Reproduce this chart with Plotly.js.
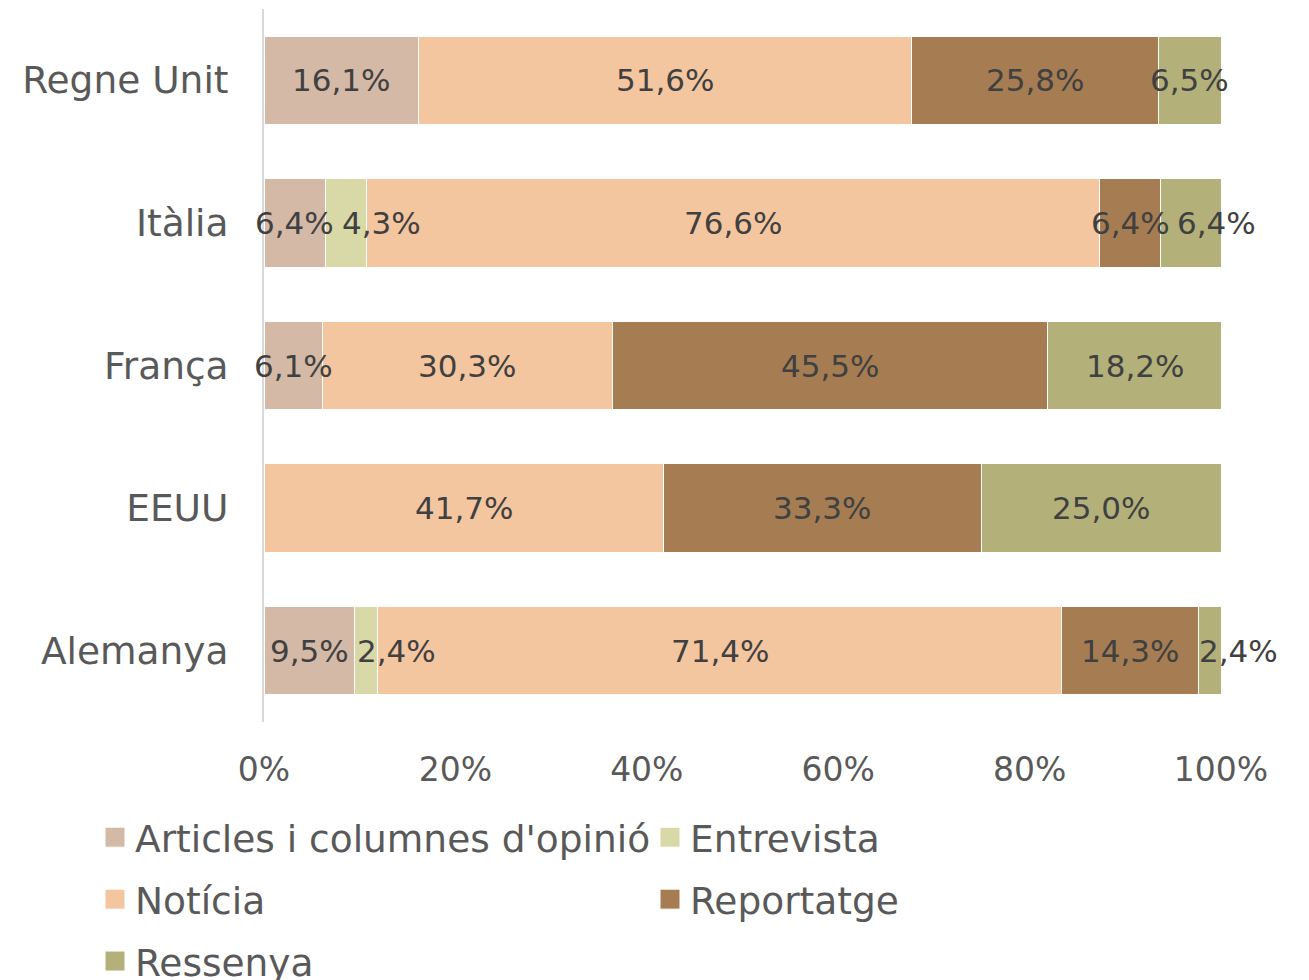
<!DOCTYPE html>
<html><head><meta charset="utf-8">
<script src="https://cdn.plot.ly/plotly-3.0.1.min.js"></script>
<style>html,body{margin:0;padding:0;background:#fff}</style>
</head><body>
<div id="chart" style="width:1309px;height:980px"></div>
<script>
const countries = ['Regne Unit', 'Itàlia', 'França', 'EEUU', 'Alemanya'];
const seriesNames = ["Articles i columnes d'opinió", 'Entrevista', 'Notícia', 'Reportatge', 'Ressenya'];
const articles   = [16.1, 6.4, 6.1, 0, 9.5];
const entrevista = [0, 4.3, 0, 0, 2.4];
const noticia    = [51.6, 76.6, 30.3, 41.7, 71.4];
const reportatge = [25.8, 6.4, 45.5, 33.3, 14.3];
const ressenya   = [6.5, 6.4, 18.2, 25.0, 2.4];
const xTickVals  = [0, 20, 40, 60, 80, 100];
const xTickText  = ['0%', '20%', '40%', '60%', '80%', '100%'];

const seriesValues = [articles, entrevista, noticia, reportatge, ressenya];
const colors = ['#D3B9A6', '#D9D9A8', '#F4C6A0', '#A67C52', '#B3B07A'];
const legendIds = ['legend', 'legend2', 'legend3', 'legend4', 'legend5'];

const FONT = '"DejaVu Sans", sans-serif';
const LABEL_SIZE = 31;
const W = 1309, H = 980;
const margin = {l: 264, r: 88, t: 8.5, b: 257.5};
const plotW = W - margin.l - margin.r;
const plotH = H - margin.t - margin.b;

function fmt(v) { return v.toFixed(1).replace('.', ',') + '%'; }

const traces = seriesValues.map((vals, i) => {
  const t = {
    type: 'bar',
    orientation: 'h',
    name: seriesNames[i],
    y: countries,
    x: vals,
    marker: {color: colors[i], line: {color: '#ffffff', width: 1}},
    hoverinfo: 'skip',
    showlegend: true
  };
  if (i > 0) t.legend = legendIds[i];
  return t;
});

// data labels, centred in each segment; if one would overlap the previous label it is moved right
const canvas = document.createElement('canvas');
const ctx = canvas.getContext('2d');
ctx.font = LABEL_SIZE + 'px ' + FONT;
const pxPerUnit = plotW / 100;
const annotations = [];
countries.forEach((c, j) => {
  let cum = 0;
  let prevRight = -Infinity;
  seriesValues.forEach((vals, i) => {
    const v = vals[j];
    if (v > 0) {
      const txt = fmt(v);
      const w = ctx.measureText(txt).width;
      const center = (cum + v / 2) * pxPerUnit;
      let left = center - w / 2;
      let shift = 0;
      if (left < prevRight + 8) {
        const newLeft = Math.max(cum * pxPerUnit + 1, prevRight + 8);
        shift = newLeft - left;
        left = newLeft;
      }
      prevRight = left + w;
      annotations.push({
        x: cum + v / 2, y: c, xref: 'x', yref: 'y', text: txt, showarrow: false,
        xanchor: 'center', yanchor: 'middle', xshift: shift,
        font: {family: FONT, size: LABEL_SIZE, color: '#404040'}
      });
    }
    cum += v;
  });
});

// legend entry positions (row/column grid below the plot)
const legendPos = [[95, 838], [650, 838], [95, 900], [650, 900], [95, 962]];
const layout = {
  width: W, height: H,
  margin: Object.assign({autoexpand: false}, margin),
  paper_bgcolor: '#ffffff', plot_bgcolor: '#ffffff',
  barmode: 'stack',
  bargap: 0.38,
  font: {family: FONT, color: '#595959'},
  xaxis: {
    range: [0, 100], tickvals: xTickVals, ticktext: xTickText,
    showgrid: false, zeroline: false, showline: false, ticks: '',
    tickfont: {size: 33, color: '#595959'}, ticklabelstandoff: 25, fixedrange: true
  },
  yaxis: {
    autorange: 'reversed', type: 'category', showgrid: false, zeroline: false,
    showline: true, linecolor: '#d9d9d9', linewidth: 2, ticks: '',
    tickfont: {size: 37.5, color: '#595959'}, ticklabelstandoff: 26, fixedrange: true
  },
  annotations: annotations,
  showlegend: true
};
legendIds.forEach((id, i) => {
  layout[id] = {
    x: (legendPos[i][0] - margin.l) / plotW, xanchor: 'left',
    y: (H - margin.b - legendPos[i][1]) / plotH, yanchor: 'middle',
    orientation: 'h', bgcolor: 'rgba(0,0,0,0)', borderwidth: 0,
    font: {family: FONT, size: 37.5, color: '#595959'}
  };
});

Plotly.newPlot('chart', traces, layout, {displayModeBar: false, staticPlot: true}).then(() => {
  // larger square legend swatches, as in the reference
  document.querySelectorAll('#chart .legendpoints path').forEach(p => {
    p.setAttribute('d', 'M10,10H-10V-10H10Z');
  });
});
</script>
</body></html>
